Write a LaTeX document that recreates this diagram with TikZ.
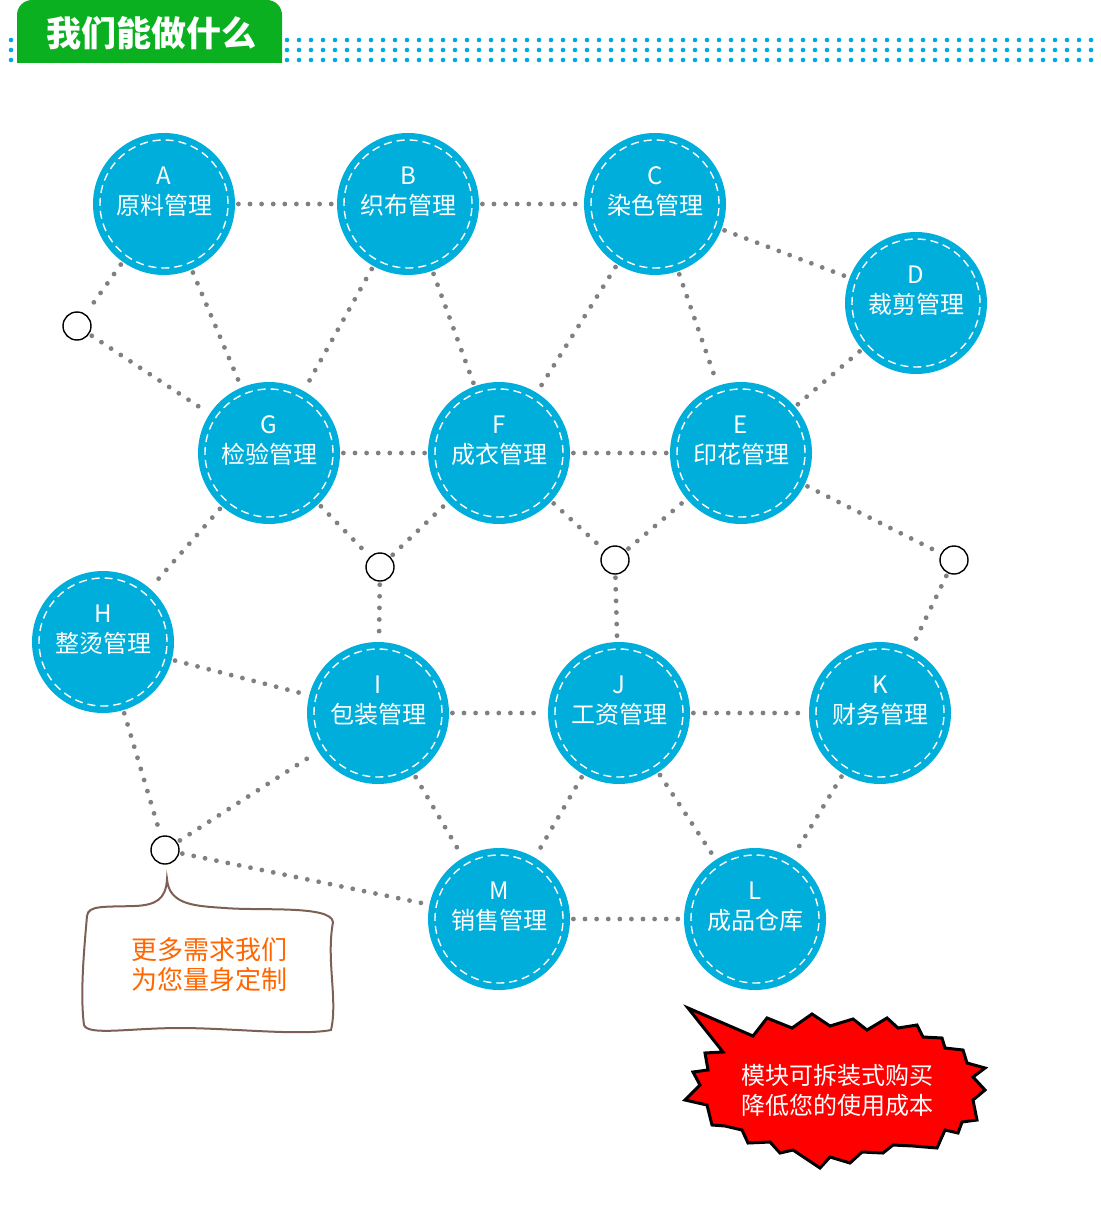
\documentclass[tikz,border=0pt]{standalone}
\usepackage{fontspec}
\setmainfont{Noto Sans CJK SC}
\definecolor{modblue}{RGB}{0,174,219}
\definecolor{linkgray}{RGB}{128,128,128}
\definecolor{hdgreen}{RGB}{10,176,32}
\definecolor{dotblue}{RGB}{0,170,225}
\definecolor{tipbrown}{RGB}{125,95,85}
\definecolor{tiporange}{RGB}{255,102,0}
\definecolor{burstred}{RGB}{255,0,0}
\tikzset{
  modnode/.style 2 args = {circle, fill=modblue, minimum size=71pt, inner sep=0pt,
    path picture={\draw[white, line width=0.7pt, dash pattern=on 4pt off 2.5pt]
      (path picture bounding box.center) circle (32pt);},
    label={[modlabel]center:#1\\#2}},% module, blue disc
  modlabel/.style = {align=center, white, yshift=6pt,
    font=\fontsize{12pt}{15pt}\selectfont},
  hub/.style = {circle, draw=black, fill=white, line width=0.7pt,
    minimum size=14pt, inner sep=0pt},% small open joint
  link/.style = {draw=linkgray, line width=2.4pt, line cap=round,
    dash pattern=on 0pt off 5.8pt, shorten <=1.5pt, shorten >=1.5pt},
  hdtitle/.style = {white, font=\fontsize{17.5pt}{20pt}\selectfont\bfseries},
  tiptext/.style = {tiporange, align=center, font=\fontsize{13pt}{15pt}\selectfont},
  bursttext/.style = {white, align=center, font=\fontsize{12pt}{15pt}\selectfont}
}
\begin{document}
\begin{tikzpicture}[x=0.5pt,y=-0.5pt]
\useasboundingbox (0,0) rectangle (1100,1208);
% header
\begin{scope}
  \clip (0,0) rectangle (1100,63);
  \fill[hdgreen, rounded corners=7.5pt] (17,0) rectangle (282,100);
\end{scope}
\node[hdtitle] (title) at (151,33) {我们能做什么};
\foreach \yy in {40,50,60} {
  \fill[dotblue] (11,\yy) circle (1.15pt);
  \foreach \xx in {287,299,...,1095} \fill[dotblue] (\xx,\yy) circle (1.15pt);
}
% modules
\node[modnode={A}{原料管理}] (A) at (164,204) {};
\node[modnode={B}{织布管理}] (B) at (408,204) {};
\node[modnode={C}{染色管理}] (C) at (655,204) {};
\node[modnode={D}{裁剪管理}] (D) at (916,303) {};
\node[modnode={G}{检验管理}] (G) at (269,453) {};
\node[modnode={F}{成衣管理}] (F) at (499,453) {};
\node[modnode={E}{印花管理}] (E) at (741,453) {};
\node[modnode={H}{整烫管理}] (H) at (103,642) {};
\node[modnode={I}{包装管理}] (I) at (378,713) {};
\node[modnode={J}{工资管理}] (J) at (619,713) {};
\node[modnode={K}{财务管理}] (K) at (880,713) {};
\node[modnode={M}{销售管理}] (M) at (499,919) {};
\node[modnode={L}{成品仓库}] (L) at (755,919) {};
% joints
\node[hub] (s1) at (77,326) {};
\node[hub] (s2) at (380,567) {};
\node[hub] (s3) at (615,560) {};
\node[hub] (s4) at (954,560) {};
\node[hub] (s5) at (165,850) {};
% links
\foreach \u/\v in {A/B, B/C, C/D, A/s1, s1/G, A/G, B/G, B/F, C/F, C/E, D/E,
  G/F, F/E, G/H, G/s2, s2/F, s2/I, F/s3, s3/E, s3/J, E/s4, s4/K, H/I, H/s5,
  s5/I, s5/M, I/J, J/K, I/M, J/M, J/L, M/L, K/L}
  \draw[link] (\u) -- (\v);
% speech bubble
\draw[tipbrown, line width=1pt] (167,879)
  .. controls (166,900) and (155,905) .. (135,906)
  .. controls (105,907) and (88,905) .. (87,916)
  .. controls (84,950) and (80,995) .. (84,1025)
  .. controls (88,1036) and (130,1028) .. (180,1028)
  .. controls (230,1028) and (300,1036) .. (331,1030)
  .. controls (338,1000) and (326,960) .. (333,922)
  .. controls (331,905) and (260,911) .. (225,908)
  .. controls (195,906) and (169,905) .. (167,879) -- cycle;
\node[tiptext] (asktext) at (209,965) {更多需求我们\\为您量身定制};
% starburst
\draw[fill=burstred, draw=black, line width=1.5pt, line join=miter]
  (688,1008) -- (753,1036) -- (767,1018) -- (792,1028) -- (812,1014)
  -- (830,1026) -- (853,1019) -- (867,1030) -- (887,1018) -- (898,1028)
  -- (917,1025) -- (923,1037) -- (942,1038) -- (945,1048) -- (963,1050)
  -- (967,1063) -- (985,1068) -- (973,1077) -- (985,1090) -- (973,1100)
  -- (977,1120) -- (962,1122) -- (958,1133) -- (945,1130) -- (937,1148)
  -- (913,1146) -- (893,1145) -- (883,1153) -- (862,1152) -- (850,1163)
  -- (830,1157) -- (820,1168) -- (793,1150) -- (780,1153) -- (770,1142)
  -- (748,1143) -- (742,1130) -- (725,1126) -- (712,1125) -- (707,1105)
  -- (685,1100) -- (700,1085) -- (693,1072) -- (708,1070) -- (705,1053)
  -- (723,1052) -- cycle;
\node[bursttext] (bursttext) at (837,1090) {模块可拆装式购买\\降低您的使用成本};
\end{tikzpicture}
\end{document}
